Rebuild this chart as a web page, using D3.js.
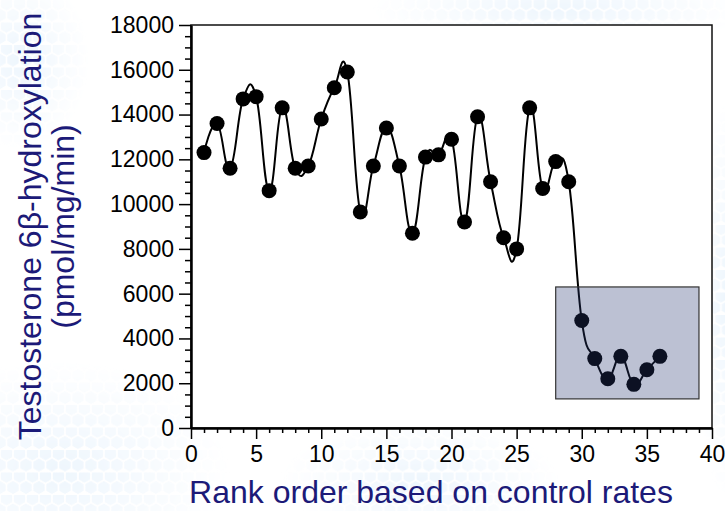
<!DOCTYPE html>
<html>
<head>
<meta charset="utf-8">
<script src="https://cdn.jsdelivr.net/npm/d3@7"></script>
<style>
  html, body { margin: 0; padding: 0; background: #fff; }
  svg { display: block; font-family: "Liberation Sans", Arial, sans-serif; }
  .tick text { fill: #000; }
</style>
</head>
<body>
<div id="chart"></div>
<script>
// rank order of the samples (x) and measured rates (y)
const ranks = [1, 2, 3, 4, 5, 6, 7, 8, 9, 10, 11, 12, 13, 14, 15, 16, 17, 18,
  19, 20, 21, 22, 23, 24, 25, 26, 27, 28, 29, 30, 31, 32, 33, 34, 35, 36];
const rates = [12300, 13600, 11600, 14700, 14800, 10600, 14300, 11600, 11700,
  13800, 15200, 15900, 9650, 11700, 13400, 11700, 8700, 12100, 12200, 12900,
  9200, 13900, 11000, 8500, 8000, 14300, 10700, 11900, 11000, 4800, 3100,
  2200, 3200, 1950, 2600, 3200];

const xTicks = [0, 5, 10, 15, 20, 25, 30, 35, 40];
const yTicks = [0, 2000, 4000, 6000, 8000, 10000, 12000, 14000, 16000, 18000];

// shaded region that marks the low-activity samples
const boxX = [28, 39];
const boxY = [1300, 6300];

const yTitle = ['Testosterone 6\u03b2-hydroxylation', '(pmol/mg/min)'];
const xTitle = 'Rank order based on control rates';

class RankChart {
  constructor(width, height, margin) {
    this.width = width;
    this.height = height;
    this.margin = margin;
    this.titleColor = '#1c1a78';
  }

  draw() {
    this.svg = d3.select('#chart').append('svg')
        .attr('width', this.width)
        .attr('height', this.height);
    this._backdrop();
    this._scales();
    this._axes();
    this._series();
    this._box();
    this._titles();
  }

  _backdrop() {
    // faint hexagon texture behind the figure
    let r = 7.5, w = Math.sqrt(3) * r;
    let defs = this.svg.append('defs');
    let pat = defs.append('pattern')
        .attr('id', 'hex')
        .attr('patternUnits', 'userSpaceOnUse')
        .attr('width', w)
        .attr('height', r * 3);
    let hex = (cx, cy) => d3.range(6).map(k => {
      let a = Math.PI / 3 * k + Math.PI / 6;
      return [cx + (r - 1) * Math.cos(a), cy + (r - 1) * Math.sin(a)];
    });
    [[w / 2, r / 2], [0, r * 2], [w, r * 2]].forEach(c => {
      pat.append('polygon')
          .attr('points', hex(c[0], c[1]).join(' '))
          .attr('fill', '#eef6fd');
    });
    let grad = defs.append('radialGradient').attr('id', 'fade');
    grad.append('stop').attr('offset', '0%').attr('stop-color', '#fff').attr('stop-opacity', 1);
    grad.append('stop').attr('offset', '100%').attr('stop-color', '#fff').attr('stop-opacity', 0);
    let mask = defs.append('mask').attr('id', 'blobs');
    [[60, 470, 170, 110], [20, 60, 70, 90], [560, 10, 190, 40], [420, 480, 140, 60], [725, 300, 30, 200]]
        .forEach(b => {
          mask.append('ellipse')
              .attr('cx', b[0]).attr('cy', b[1])
              .attr('rx', b[2]).attr('ry', b[3])
              .attr('fill', 'url(#fade)');
        });
    this.svg.append('rect')
        .attr('width', this.width)
        .attr('height', this.height)
        .attr('fill', 'url(#hex)')
        .attr('mask', 'url(#blobs)');
  }

  _scales() {
    let m = this.margin;
    this.x = d3.scaleLinear().domain([0, 40]).range([m.left, this.width - m.right]);
    this.y = d3.scaleLinear().domain([0, 18000]).range([this.height - m.bottom, m.top]);
  }

  _axes() {
    let x = this.x, y = this.y;
    let plot = this.svg.append('g').attr('class', 'plot');

    plot.append('rect')
        .attr('x', x(0)).attr('y', y(18000))
        .attr('width', x(40) - x(0))
        .attr('height', y(0) - y(18000))
        .attr('fill', '#fff')
        .attr('stroke', '#111')
        .attr('stroke-width', 1.5);

    let minorX = d3.range(0, 41).filter(d => d % 5);
    let minorY = d3.range(0, 18001, 500).filter(d => d % 2000);

    plot.append('g')
        .attr('transform', 'translate(0,' + y(0) + ')')
        .call(d3.axisBottom(x).tickValues(minorX).tickSize(5).tickFormat(''))
        .call(g => g.select('.domain').remove())
        .selectAll('line').attr('stroke-width', 1.5);

    plot.append('g')
        .attr('transform', 'translate(' + x(0) + ',0)')
        .call(d3.axisLeft(y).tickValues(minorY).tickSize(6).tickFormat(''))
        .call(g => g.select('.domain').remove())
        .selectAll('line').attr('stroke-width', 1.5);

    let xAxis = plot.append('g')
        .attr('transform', 'translate(0,' + y(0) + ')')
        .call(d3.axisBottom(x).tickValues(xTicks).tickSize(11).tickPadding(7)
            .tickSizeOuter(0).tickFormat(d3.format('d')));
    xAxis.select('.domain').attr('stroke-width', 2.5);
    xAxis.selectAll('line').attr('stroke-width', 1.5);
    xAxis.selectAll('text').attr('font-size', 23);

    let yAxis = plot.append('g')
        .attr('transform', 'translate(' + x(0) + ',0)')
        .call(d3.axisLeft(y).tickValues(yTicks).tickSize(12).tickPadding(5)
            .tickSizeOuter(0).tickFormat(d3.format('d')));
    yAxis.select('.domain').attr('stroke-width', 2.5);
    yAxis.selectAll('line').attr('stroke-width', 1.5);
    yAxis.selectAll('text').attr('font-size', 23);
  }

  _series() {
    let x = this.x, y = this.y;
    let points = ranks.map((r, i) => ({r: r, v: rates[i]}));

    this.svg.append('path')
        .datum(points)
        .attr('fill', 'none')
        .attr('stroke', '#000')
        .attr('stroke-width', 2)
        .attr('d', d3.line()
            .x(d => x(d.r))
            .y(d => y(d.v))
            .curve(d3.curveCardinal.tension(-0.3)));

    this.svg.append('g')
        .selectAll('circle')
        .data(points)
        .enter()
        .append('circle')
        .attr('cx', d => x(d.r))
        .attr('cy', d => y(d.v))
        .attr('r', 7.5)
        .attr('fill', '#000');
  }

  _box() {
    let x = this.x, y = this.y;
    this.svg.append('rect')
        .attr('x', x(boxX[0]))
        .attr('y', y(boxY[1]))
        .attr('width', x(boxX[1]) - x(boxX[0]))
        .attr('height', y(boxY[0]) - y(boxY[1]))
        .attr('fill', 'rgb(40,56,112)')
        .attr('fill-opacity', 0.31)
        .attr('stroke', '#333')
        .attr('stroke-width', 1.2);
  }

  _titles() {
    this.svg.append('text')
        .attr('x', 431)
        .attr('y', 503)
        .attr('text-anchor', 'middle')
        .attr('font-size', 32)
        .attr('fill', this.titleColor)
        .text(xTitle);

    let cy = (this.y(0) + this.y(18000)) / 2;
    this.svg.append('g')
        .attr('transform', 'translate(0,' + cy + ') rotate(-90)')
        .selectAll('text')
        .data(yTitle)
        .enter()
        .append('text')
        .attr('x', 0)
        .attr('y', (d, i) => 41 + i * 33)
        .attr('text-anchor', 'middle')
        .attr('font-size', 32)
        .attr('fill', this.titleColor)
        .text(d => d);
  }
}

let chart = new RankChart(725, 511, {top: 25, right: 13, bottom: 83, left: 191});
chart.draw();
</script>
</body>
</html>
